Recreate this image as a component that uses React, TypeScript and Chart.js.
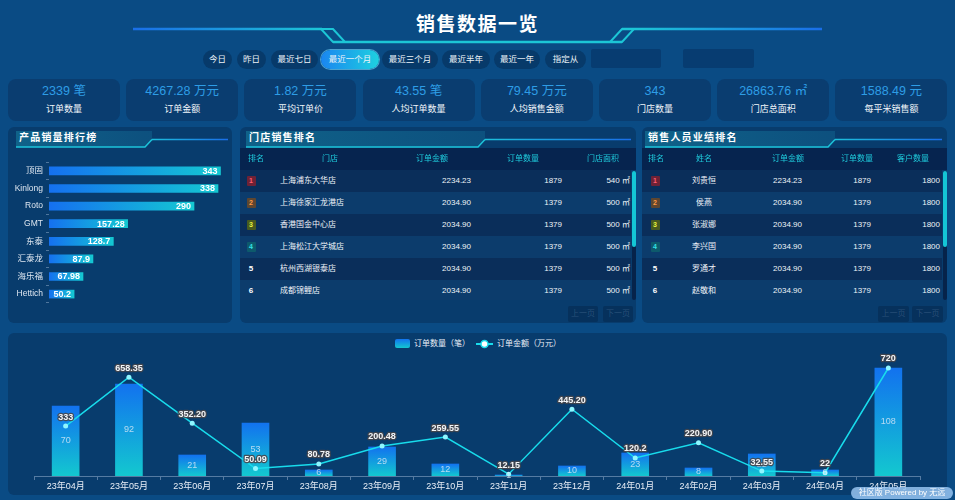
import React, { useEffect, useRef } from "react";
import { Chart, registerables } from "chart.js";

Chart.register(...registerables);

const FONT = '"Liberation Sans","Noto Sans CJK SC",sans-serif';

// ---- data ----
const months = ["23年04月", "23年05月", "23年06月", "23年07月", "23年08月", "23年09月", "23年10月", "23年11月", "23年12月", "24年01月", "24年02月", "24年03月", "24年04月", "24年05月"];
const orderCounts = [70, 92, 21, 53, 6, 29, 12, 1, 10, 23, 8, 22, 6, 108];
const orderAmountLabels = ["333", "658.35", "352.20", "50.09", "80.78", "200.48", "259.55", "12.15", "445.20", "120.2", "220.90", "32.55", "22", "720"];
const orderAmounts = orderAmountLabels.map((s) => parseFloat(s));

const productNames = ["顶固", "Kinlong", "Roto", "GMT", "东泰", "汇泰龙", "海乐福", "Hettich"];
const productSales = [343, 338, 290, 157.28, 128.7, 87.9, 67.98, 50.2];

const kpiValues = ["2339", "4267.28", "1.82", "43.55", "79.45", "343", "26863.76", "1588.49"];
const kpiUnits = ["笔", "万元", "万元", "笔", "万元", "", "㎡", "元"];
const kpiLabels = ["订单数量", "订单金额", "平均订单价", "人均订单数量", "人均销售金额", "门店数量", "门店总面积", "每平米销售额"];

const periodButtons = ["今日", "昨日", "最近七日", "最近一个月", "最近三个月", "最近半年", "最近一年", "指定从"];
const periodButtonX = [[203, 232], [237, 266], [271, 318], [321, 379], [382, 438], [442, 490], [494, 540], [545, 586]];

const storeNames = ["上海浦东大华店", "上海徐家汇龙港店", "香港国金中心店", "上海松江大学城店", "杭州西湖银泰店", "成都锦鲤店"];
const storeAmounts = ["2234.23", "2034.90", "2034.90", "2034.90", "2034.90", "2034.90"];
const storeCounts = ["1879", "1379", "1379", "1379", "1379", "1379"];
const storeAreas = ["540 ㎡", "500 ㎡", "500 ㎡", "500 ㎡", "500 ㎡", "500 ㎡"];

const sellerNames = ["刘贵恒", "侯燕", "张淑娜", "李兴国", "罗通才", "赵敬和"];
const sellerAmounts = ["2234.23", "2034.90", "2034.90", "2034.90", "2034.90", "2034.90"];
const sellerCounts = ["1879", "1379", "1379", "1379", "1379", "1379"];
const sellerCustomers = ["1800", "1800", "1800", "1800", "1800", "1800"];

const rankBadge = [
  { bg: "#6e2236", fg: "#ff5d70" },
  { bg: "#5e4630", fg: "#ff9a44" },
  { bg: "#485a20", fg: "#e6f03e" },
  { bg: "#0d5a6c", fg: "#33e2e6" },
];

// ---- helpers ----
type TxtProps = { x: number; y: number; align?: "left" | "center" | "right"; color?: string; size?: number; bold?: boolean; h?: number; children: any; ls?: number };
const Txt = ({ x, y, align = "left", color = "#e8eef6", size = 8, bold = false, h = 22, children, ls = 0 }: TxtProps) => {
  const w = 200;
  const left = align === "left" ? x : align === "center" ? x - w / 2 : x - w;
  return (
    <div
      style={{
        position: "absolute",
        left,
        top: y - h / 2,
        width: w,
        height: h,
        lineHeight: h + "px",
        textAlign: align,
        color,
        fontSize: size,
        fontWeight: bold ? 700 : 400,
        letterSpacing: ls,
        whiteSpace: "nowrap",
      }}
    >
      {children}
    </div>
  );
};

const Rank = ({ x, y, i }: { x: number; y: number; i: number }) => {
  if (i < 4) {
    const b = rankBadge[i];
    return (
      <div style={{ position: "absolute", left: x - 4.5, top: y - 5, width: 9, height: 10, background: b.bg, color: b.fg, fontSize: 7, lineHeight: "10px", textAlign: "center", fontWeight: 700, borderRadius: 1 }}>
        {i + 1}
      </div>
    );
  }
  return <Txt x={x} y={y} align="center" bold color="#ffffff">{i + 1}</Txt>;
};

function BarRankChart() {
  const ref = useRef<HTMLCanvasElement>(null);
  useEffect(() => {
    const valuePlugin = {
      id: "hbarValues",
      afterDatasetsDraw(chart: any) {
        const ctx = chart.ctx;
        const meta = chart.getDatasetMeta(0);
        ctx.save();
        ctx.font = "bold 9px " + FONT;
        ctx.fillStyle = "#ffffff";
        ctx.textAlign = "right";
        ctx.textBaseline = "middle";
        meta.data.forEach((el: any, i: number) => {
          ctx.fillText(String(productSales[i]), el.x - 3, el.y + 0.5);
        });
        ctx.restore();
      },
    };
    const chart = new Chart(ref.current!, {
      type: "bar",
      data: {
        labels: productNames,
        datasets: [
          {
            data: productSales,
            barThickness: 8,
            borderWidth: 0,
            backgroundColor: (c: any) => {
              const ch = c.chart;
              if (!ch.chartArea || c.type !== "data") return "#1676ee";
              const x0 = ch.scales.x.getPixelForValue(0);
              const x1 = ch.scales.x.getPixelForValue(c.raw);
              const g = ch.ctx.createLinearGradient(x0, 0, x1, 0);
              g.addColorStop(0, "#1570f0");
              g.addColorStop(1, "#14c8d2");
              return g;
            },
          },
        ],
      },
      options: {
        indexAxis: "y",
        responsive: false,
        animation: false,
        layout: { padding: { left: 0, right: 8, top: 0, bottom: 0 } },
        plugins: { legend: { display: false }, tooltip: { enabled: false } },
        scales: {
          x: { display: false, min: 0, max: 350 },
          y: {
            afterFit: (s: any) => {
              s.width = 41;
            },
            border: { display: false },
            grid: { display: true, drawOnChartArea: false, drawTicks: true, tickLength: 3, color: "rgba(150,175,205,0.5)" },
            ticks: { color: "#dde6f0", font: { size: 8.5, family: FONT }, padding: 3 },
          },
        },
      },
      plugins: [valuePlugin],
    } as any);
    return () => chart.destroy();
  }, []);
  return <canvas ref={ref} width={224} height={157} style={{ position: "absolute", left: 8, top: 154, width: 224, height: 157 }} />;
}

function ComboChart() {
  const ref = useRef<HTMLCanvasElement>(null);
  useEffect(() => {
    const labelPlugin = {
      id: "comboLabels",
      afterDatasetsDraw(chart: any) {
        const ctx = chart.ctx;
        ctx.save();
        const barMeta = chart.getDatasetMeta(0);
        ctx.font = "9px " + FONT;
        ctx.textAlign = "center";
        ctx.textBaseline = "middle";
        ctx.fillStyle = "rgba(225,236,248,0.78)";
        barMeta.data.forEach((el: any, i: number) => {
          ctx.fillText(String(orderCounts[i]), el.x, (el.y + el.base) / 2);
        });
        const lineMeta = chart.getDatasetMeta(1);
        ctx.font = "bold 9px " + FONT;
        ctx.lineJoin = "round";
        lineMeta.data.forEach((el: any, i: number) => {
          ctx.strokeStyle = "rgba(70,70,75,0.9)";
          ctx.lineWidth = 2.5;
          ctx.strokeText(orderAmountLabels[i], el.x, el.y - 9);
          ctx.fillStyle = "#f4f6f8";
          ctx.fillText(orderAmountLabels[i], el.x, el.y - 9);
        });
        ctx.restore();
      },
    };
    const chart = new Chart(ref.current!, {
      type: "bar",
      data: {
        labels: months,
        datasets: [
          {
            type: "bar",
            label: "订单数量（笔）",
            data: orderCounts,
            yAxisID: "y",
            order: 1,
            barThickness: 27,
            borderWidth: 0,
            backgroundColor: (c: any) => {
              const ch = c.chart;
              if (!ch.chartArea || c.type !== "data") return "#1676ee";
              const y0 = ch.scales.y.getPixelForValue(0);
              const y1 = ch.scales.y.getPixelForValue(c.raw);
              const g = ch.ctx.createLinearGradient(0, y1, 0, y0);
              g.addColorStop(0, "#1272ef");
              g.addColorStop(1, "#13c8cf");
              return g;
            },
          },
          {
            type: "line",
            label: "订单金额（万元）",
            data: orderAmounts,
            yAxisID: "y1",
            order: 0,
            borderColor: "#18dcec",
            borderWidth: 1.5,
            pointRadius: 2.5,
            pointBorderWidth: 0,
            pointBackgroundColor: "#8ff6ff",
            tension: 0,
          },
        ],
      },
      options: {
        responsive: false,
        animation: false,
        layout: { padding: { left: 26, right: 27, top: 6, bottom: 0 } },
        plugins: { legend: { display: false }, tooltip: { enabled: false } },
        scales: {
          x: {
            afterFit: (s: any) => {
              s.height = 20;
            },
            offset: true,
            border: { display: true, color: "rgba(150,175,205,0.55)" },
            grid: { display: true, offset: true, drawOnChartArea: false, drawTicks: true, tickLength: 4, color: "rgba(150,175,205,0.55)" },
            ticks: { color: "#e8eef6", font: { size: 9, family: FONT }, padding: 1, maxRotation: 0, autoSkip: false },
          },
          y: { display: false, min: 0, max: 120 },
          y1: { display: false, min: 0, max: 800, position: "right" },
        },
      },
      plugins: [labelPlugin],
    } as any);
    return () => chart.destroy();
  }, []);
  return <canvas ref={ref} width={939} height={146} style={{ position: "absolute", left: 8, top: 350, width: 939, height: 146 }} />;
}

const PANEL_BG = "#083c6d";

function PanelTitle({ x0, xs, xEnd, text, id }: { x0: number; xs: number; xEnd: number; text: string; id: string }) {
  return (
    <>
      <svg width={955} height={500} style={{ position: "absolute", left: 0, top: 0, pointerEvents: "none" }}>
        <defs>
          <linearGradient id={id + "band"} x1={x0} x2={xs} y1={0} y2={0} gradientUnits="userSpaceOnUse">
            <stop offset="0" stopColor="rgba(22,130,160,0.55)" />
            <stop offset="1" stopColor="rgba(22,120,160,0.35)" />
          </linearGradient>
          <linearGradient id={id + "line"} x1={xs} x2={xEnd} y1={0} y2={0} gradientUnits="userSpaceOnUse">
            <stop offset="0" stopColor="#1cc4da" />
            <stop offset="1" stopColor="#1a6ee8" />
          </linearGradient>
        </defs>
        <polygon points={`${x0},131 ${xs + 7},131 ${xs + 7},139 ${xs},147 ${x0},147`} fill={`url(#${id}band)`} />
        <polyline points={`${x0},147 ${xs},147 ${xs + 7},139.5`} fill="none" stroke="#1cc4da" strokeWidth={1.5} />
        <line x1={xs + 7} y1={139.5} x2={xEnd} y2={139.5} stroke={`url(#${id}line)`} strokeWidth={1.5} />
      </svg>
      <Txt x={x0 + 3} y={138} size={10} bold color="#ffffff" ls={1.2}>{text}</Txt>
    </>
  );
}

function Table({ left, width, headers, headerX, rows, cols, sbX }: any) {
  // cols: array of {x, align} in absolute coords; rows: array of arrays of strings (first = rank)
  return (
    <>
      <div style={{ position: "absolute", left, top: 148, width, height: 22, background: "#06244f" }} />
      {headers.map((h: string, i: number) => (
        <Txt key={h} x={headerX[i]} y={159} align="center" color="#1fcbdc" size={8}>{h}</Txt>
      ))}
      <div style={{ position: "absolute", left, top: 170, width: width - 5, height: 130, overflow: "hidden" }}>
        <div style={{ position: "absolute", left: -left, top: -170, width: 955, height: 500 }}>
          {rows.map((r: string[], i: number) => {
            const y = 181 + i * 22;
            return (
              <React.Fragment key={i}>
                <div style={{ position: "absolute", left, top: 170 + i * 22, width: width - 5, height: 22, background: i % 2 === 0 ? "#0a2e5a" : "#0c3c6c" }} />
                <Rank x={cols[0].x} y={y} i={i} />
                {r.map((v: string, j: number) => (
                  <Txt key={j} x={cols[j + 1].x} y={y} align={cols[j + 1].align} color="#eef3f8" size={8}>{v}</Txt>
                ))}
              </React.Fragment>
            );
          })}
        </div>
      </div>
      <div style={{ position: "absolute", left: sbX, top: 171, width: 4, height: 129, background: "#06234a", borderRadius: 2 }} />
      <div style={{ position: "absolute", left: sbX, top: 171, width: 4, height: 76, background: "#14c6d6", borderRadius: 2 }} />
    </>
  );
}

function PagerBtn({ x0, x1, text }: { x0: number; x1: number; text: string }) {
  return (
    <div style={{ position: "absolute", left: x0, top: 306, width: x1 - x0, height: 16, background: "rgba(4,36,72,0.45)", color: "rgba(160,190,220,0.22)", fontSize: 8, lineHeight: "16px", textAlign: "center", borderRadius: 2 }}>
      {text}
    </div>
  );
}

export default function App() {
  return (
    <div style={{ position: "fixed", left: 0, top: 0, width: 955, height: 500, background: "#0a4b84", overflow: "hidden", fontFamily: FONT }}>
      {/* title decoration */}
      <svg width={955} height={60} style={{ position: "absolute", left: 0, top: 0 }}>
        <defs>
          <linearGradient id="tl" x1="133" x2="322" y1="0" y2="0" gradientUnits="userSpaceOnUse">
            <stop offset="0" stopColor="#1a6ee8" />
            <stop offset="1" stopColor="#1cc6d6" />
          </linearGradient>
          <linearGradient id="tr" x1="634" x2="822" y1="0" y2="0" gradientUnits="userSpaceOnUse">
            <stop offset="0" stopColor="#1cc6d6" />
            <stop offset="1" stopColor="#1a6ee8" />
          </linearGradient>
        </defs>
        <line x1={133} y1={29} x2={322} y2={29} stroke="url(#tl)" strokeWidth={2.5} />
        <polygon points="321,29 333,29 345,42 333,42" fill="none" stroke="#1cc6d6" strokeWidth={2} />
        <line x1={333} y1={42} x2={622} y2={42} stroke="#1cc6d6" strokeWidth={2.5} />
        <polygon points="610,42 622,42 634,29 622,29" fill="none" stroke="#1cc6d6" strokeWidth={2} />
        <line x1={622} y1={29} x2={822} y2={29} stroke="url(#tr)" strokeWidth={2.5} />
      </svg>
      <div style={{ position: "absolute", left: 0, top: 12, width: 955, height: 26, lineHeight: "26px", textAlign: "center", color: "#ffffff", fontSize: 19, fontWeight: 700, letterSpacing: 1.5 }}>
        销售数据一览
      </div>

      {/* period buttons */}
      {periodButtons.map((b, i) => {
        const [x0, x1] = periodButtonX[i];
        const active = i === 3;
        return (
          <div
            key={b}
            style={{
              position: "absolute",
              left: x0,
              top: 50,
              width: x1 - x0,
              height: 19,
              lineHeight: "19px",
              textAlign: "center",
              fontSize: 8.5,
              color: "#eef3f8",
              borderRadius: 10,
              background: active ? "linear-gradient(90deg,#1a86f0,#1ed0e0)" : "#073a6a",
              boxShadow: active ? "0 0 0 1px rgba(120,220,255,0.6)" : "none",
            }}
          >
            {b}
          </div>
        );
      })}
      <div style={{ position: "absolute", left: 591, top: 49, width: 70, height: 19, background: "rgba(5,50,100,0.6)", borderRadius: 2 }} />
      <div style={{ position: "absolute", left: 683, top: 49, width: 71, height: 19, background: "rgba(5,50,100,0.6)", borderRadius: 2 }} />

      {/* KPI cards */}
      {kpiValues.map((v, i) => {
        const left = 8 + i * 118.2;
        return (
          <div key={i} style={{ position: "absolute", left, top: 79, width: 112, height: 42, background: "#0a3d70", borderRadius: 8 }}>
            <div style={{ position: "absolute", left: 0, top: 3, width: 112, height: 18, lineHeight: "18px", textAlign: "center", color: "#2e9de6", fontSize: 12.5 }}>
              {v}
              {kpiUnits[i] ? " " + kpiUnits[i] : ""}
            </div>
            <div style={{ position: "absolute", left: 0, top: 22, width: 112, height: 16, lineHeight: "16px", textAlign: "center", color: "#f2f6fa", fontSize: 9 }}>
              {kpiLabels[i]}
            </div>
          </div>
        );
      })}

      {/* panels */}
      <div style={{ position: "absolute", left: 8, top: 127, width: 224, height: 196, background: PANEL_BG, borderRadius: 6 }} />
      <div style={{ position: "absolute", left: 240, top: 127, width: 396, height: 196, background: PANEL_BG, borderRadius: 6 }} />
      <div style={{ position: "absolute", left: 642, top: 127, width: 305, height: 196, background: PANEL_BG, borderRadius: 6 }} />
      <div style={{ position: "absolute", left: 8, top: 333, width: 939, height: 162, background: PANEL_BG, borderRadius: 6 }} />

      <PanelTitle id="p1" x0={16} xs={145} xEnd={228} text="产品销量排行榜" />
      <PanelTitle id="p2" x0={246} xs={478} xEnd={631} text="门店销售排名" />
      <PanelTitle id="p3" x0={645} xs={828} xEnd={942} text="销售人员业绩排名" />

      <BarRankChart />

      <Table
        left={240}
        width={396}
        headers={["排名", "门店", "订单金额", "订单数量", "门店面积"]}
        headerX={[256, 330, 432, 523, 603]}
        rows={storeNames.map((n, i) => [n, storeAmounts[i], storeCounts[i], storeAreas[i]])}
        cols={[{ x: 251 }, { x: 280, align: "left" }, { x: 471, align: "right" }, { x: 562, align: "right" }, { x: 630, align: "right" }]}
        sbX={632}
      />
      <PagerBtn x0={568} x1={598} text="上一页" />
      <PagerBtn x0={603} x1={633} text="下一页" />

      <Table
        left={642}
        width={305}
        headers={["排名", "姓名", "订单金额", "订单数量", "客户数量"]}
        headerX={[656, 704, 788, 857, 913]}
        rows={sellerNames.map((n, i) => [n, sellerAmounts[i], sellerCounts[i], sellerCustomers[i]])}
        cols={[{ x: 655 }, { x: 704, align: "center" }, { x: 802, align: "right" }, { x: 871, align: "right" }, { x: 940, align: "right" }]}
        sbX={943}
      />
      <PagerBtn x0={878} x1={909} text="上一页" />
      <PagerBtn x0={912} x1={943} text="下一页" />

      {/* legend */}
      <div style={{ position: "absolute", left: 395, top: 339, width: 15, height: 9, borderRadius: 2, background: "linear-gradient(180deg,#1272ef,#13c8cf)" }} />
      <Txt x={414} y={343.5} size={8} color="#e8eef6">订单数量（笔）</Txt>
      <svg width={20} height={12} style={{ position: "absolute", left: 476, top: 337.5 }}>
        <line x1={0} y1={6} x2={17} y2={6} stroke="#18dcec" strokeWidth={2} />
        <circle cx={8.5} cy={6} r={3.5} fill="#ffffff" stroke="#18dcec" strokeWidth={1.5} />
      </svg>
      <Txt x={497} y={343.5} size={8} color="#e8eef6">订单金额（万元）</Txt>

      <ComboChart />

      <div style={{ position: "absolute", left: 851, top: 487, width: 102, height: 12, borderRadius: 6, background: "rgba(150,195,240,0.85)", color: "#ffffff", fontSize: 8, lineHeight: "12px", textAlign: "center" }}>
        社区版 Powered by 无远
      </div>
    </div>
  );
}
